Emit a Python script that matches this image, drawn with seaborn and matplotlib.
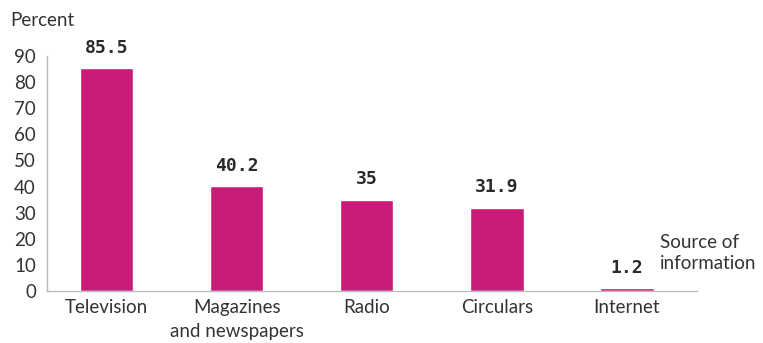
import matplotlib
matplotlib.use('Agg')
import matplotlib.pyplot as plt
import seaborn as sns
import numpy as np
import pandas as pd


# Data.
sources = ['Television', 'Magazines\nand newspapers', 'Radio', 'Circulars', 'Internet']
percent = [85.5, 40.2, 35, 31.9, 1.2]
value_labels = ['85.5', '40.2', '35', '31.9', '1.2']
y_ticks = [0, 10, 20, 30, 40, 50, 60, 70, 80, 90]

df = pd.DataFrame({'source': sources, 'percent': percent})

sns.set_style('white')
plt.rcParams['font.family'] = ['Lato', 'DejaVu Sans']

bar_color = '#C81C78'
text_color = '#333333'
axis_color = '#BBBBBB'
fs = 13.5

fig = plt.figure(figsize=(7.63, 3.43), dpi=100)
ax = fig.add_axes([0.0616, 0.1516, 0.852, 0.685])

sns.barplot(data=df, x='source', y='percent', color=bar_color, width=0.41,
            saturation=1, ax=ax)

# bars sit slightly left of the category centre
off = 0.04
ax.set_xlim(-0.5 + off, len(sources) - 0.5 + off)
ax.set_ylim(0, 90)
ax.set_yticks(y_ticks)
ax.set_xlabel('')
ax.set_ylabel('')

for side in ['top', 'right']:
    ax.spines[side].set_visible(False)
for side in ['left', 'bottom']:
    ax.spines[side].set_color(axis_color)
    ax.spines[side].set_linewidth(1)

# category labels centred, tick marks between categories
ax.set_xticks(range(len(sources)))
ax.set_xticklabels(sources, fontsize=fs, color=text_color, linespacing=1.45)
ax.set_xticks(np.arange(len(sources) + 1) - 0.5 + off, minor=True)
ax.tick_params(axis='x', which='major', length=0, pad=6)
ax.tick_params(axis='x', which='minor', length=6, color=axis_color, width=1, direction='out')
ax.tick_params(axis='y', length=5, color=axis_color, width=1, direction='out',
               labelsize=fs, labelcolor=text_color, pad=3)

for i, (v, lab) in enumerate(zip(percent, value_labels)):
    ax.text(i, v + 4.3, lab, ha='center', va='bottom', fontsize=13,
            family='DejaVu Sans Mono', fontweight='bold', color='#2a2a2a')

fig.text(10 / 763, 1 - 20 / 343, 'Percent', ha='left', va='center',
         fontsize=fs, color=text_color)
fig.text(660 / 763, 1 - 253 / 343, 'Source of\ninformation', ha='left', va='center',
         fontsize=fs, color=text_color, linespacing=1.35)

fig.savefig('out.png', dpi=100)
